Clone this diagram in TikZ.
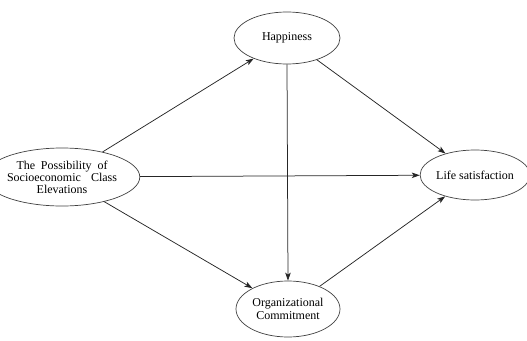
\documentclass[tikz,border=0pt]{standalone}
\usepackage{fontspec}
\setmainfont{Liberation Serif}
\usetikzlibrary{shapes.geometric,arrows.meta}
\begin{document}
\begin{tikzpicture}[x=1pt,y=-1pt,
  ell/.style={draw=black!75,line width=0.7pt,ellipse,inner sep=0pt,font=\fontsize{12}{13}\selectfont,align=center},
  conn/.style={draw=black!85,line width=0.75pt,-{Stealth[length=8pt,width=5.5pt,inset=2pt]}}]
\useasboundingbox (0,0) rectangle (527,340);
\node[ell,minimum width=113pt,minimum height=58pt] (soc) at (62,177) {\makebox[91pt][s]{The Possibility of}\\[-1pt]\makebox[110pt][s]{Socioeconomic Class}\\[-1pt]Elevations};
\node[ell,minimum width=106pt,minimum height=52pt] (hap) at (287,38) {Happiness};
\node[ell,minimum width=100pt,minimum height=50pt] (life) at (475,175) {Life satisfaction};
\node[ell,minimum width=104pt,minimum height=56pt] (org) at (288,309) {Organizational\\Commitment};
\draw[conn] (soc) -- (hap);
\draw[conn] (soc) -- (life);
\draw[conn] (soc) -- (org);
\draw[conn] (hap) -- (life);
\draw[conn] (hap.south) -- (org.north);
\draw[conn] (org) -- (life);
\end{tikzpicture}
\end{document}
